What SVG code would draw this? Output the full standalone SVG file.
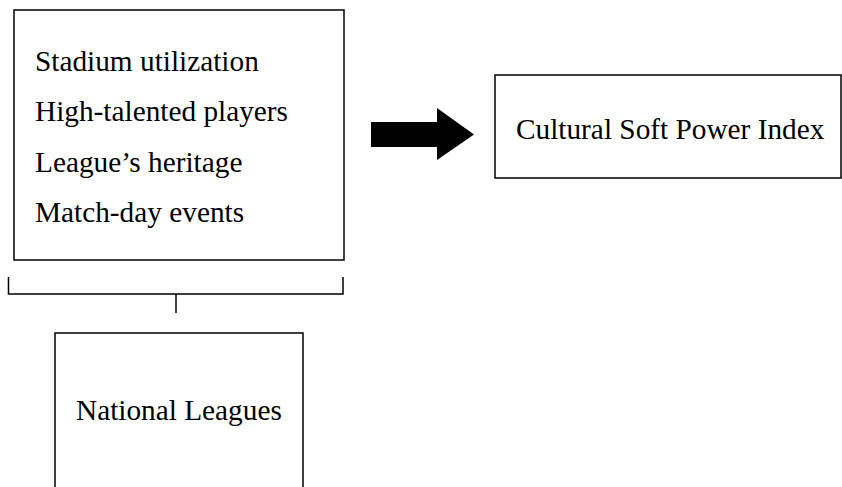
<svg xmlns="http://www.w3.org/2000/svg" width="842" height="487" viewBox="0 0 842 487">
<style>
.box{fill:#fff;stroke:#000;stroke-width:1.5}
.t{font-family:"Liberation Serif","Times New Roman",serif;font-size:29.3px;fill:#000}
.ln{fill:none;stroke:#000;stroke-width:1.5}
</style>
<rect width="842" height="487" fill="#fff"/>
<g id="factors">
<rect class="box" x="14" y="10" width="330" height="250"/>
<text class="t" x="35" y="71">Stadium utilization</text>
<text class="t" x="35" y="121">High-talented players</text>
<text class="t" x="35" y="172">League’s heritage</text>
<text class="t" x="35" y="222">Match-day events</text>
</g>
<g id="index">
<rect class="box" x="495" y="75" width="346" height="103"/>
<text class="t" x="516" y="139">Cultural Soft Power Index</text>
</g>
<g id="leagues">
<rect class="box" x="55" y="333" width="248" height="170"/>
<text class="t" x="76" y="420">National Leagues</text>
</g>
<g id="connectors">
<polygon points="371,122 437,122 437,108 474,134.5 437,160 437,147 371,147" fill="#000"/>
<path class="ln" d="M8.5,277 V294 H343 V277 M176,294 V313"/>
</g>
</svg>
